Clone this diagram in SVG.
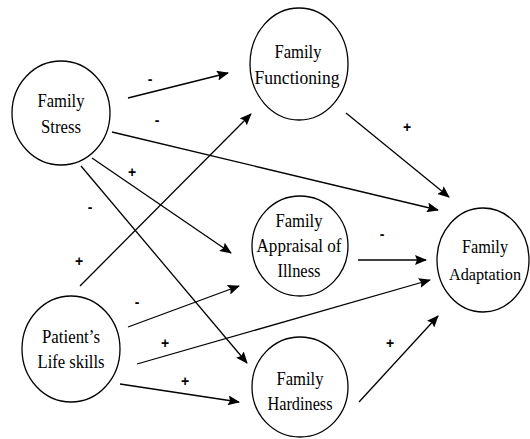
<svg xmlns="http://www.w3.org/2000/svg" width="530" height="439" viewBox="0 0 530 439">
<style>
.n ellipse{fill:#fff;stroke:#000;stroke-width:1.3}
.n text{font-family:"Liberation Serif","Times New Roman",serif;font-size:18.5px;fill:#000;text-anchor:middle}
#edges line{stroke:#000;stroke-width:1.3;marker-end:url(#ah)}
#labels text{font-family:"Liberation Sans",Arial,sans-serif;font-size:14px;font-weight:bold;fill:#000;text-anchor:middle}
</style>
<defs>
<marker id="ah" viewBox="0 0 12 10" refX="11" refY="5" markerWidth="12" markerHeight="10" markerUnits="userSpaceOnUse" orient="auto">
<path d="M0,0 L12,5 L0,10 L2,5 z" fill="#000"/>
</marker>
</defs>
<rect width="530" height="439" fill="#fff"/>
<g id="edges">
<line x1="128" y1="98" x2="228" y2="73"/>
<line x1="112" y1="132" x2="438" y2="210"/>
<line x1="92" y1="158" x2="231" y2="253"/>
<line x1="81" y1="166" x2="247" y2="363"/>
<line x1="80" y1="286" x2="251" y2="114"/>
<line x1="128" y1="327" x2="239" y2="286"/>
<line x1="137" y1="364" x2="430" y2="280"/>
<line x1="120" y1="384" x2="239" y2="402"/>
<line x1="346" y1="113" x2="449" y2="197"/>
<line x1="358" y1="260" x2="426" y2="260"/>
<line x1="359" y1="402" x2="438" y2="316"/>
</g>
<g id="labels">
<text x="150" y="84">-</text>
<text x="157" y="125">-</text>
<text x="132" y="177">+</text>
<text x="90" y="212">-</text>
<text x="79" y="266">+</text>
<text x="137" y="307">-</text>
<text x="165" y="348">+</text>
<text x="185" y="386">+</text>
<text x="407" y="132">+</text>
<text x="382" y="239">-</text>
<text x="390" y="348">+</text>
</g>
<g id="family-stress" class="n">
<ellipse cx="61" cy="113" rx="49" ry="52"/>
<text x="61" y="107" textLength="47" lengthAdjust="spacingAndGlyphs">Family</text>
<text x="61" y="133" textLength="40" lengthAdjust="spacingAndGlyphs">Stress</text>
</g>
<g id="family-functioning" class="n">
<ellipse cx="299" cy="64" rx="49" ry="56"/>
<text x="298" y="58" textLength="47" lengthAdjust="spacingAndGlyphs">Family</text>
<text x="297" y="84" textLength="85" lengthAdjust="spacingAndGlyphs">Functioning</text>
</g>
<g id="family-appraisal" class="n">
<ellipse cx="300" cy="246" rx="48" ry="50"/>
<text x="299" y="227" textLength="47" lengthAdjust="spacingAndGlyphs">Family</text>
<text x="299" y="252" textLength="85" lengthAdjust="spacingAndGlyphs">Appraisal of</text>
<text x="299" y="277" textLength="43" lengthAdjust="spacingAndGlyphs">Illness</text>
</g>
<g id="family-hardiness" class="n">
<ellipse cx="300" cy="387" rx="48" ry="50"/>
<text x="300" y="385" textLength="47" lengthAdjust="spacingAndGlyphs">Family</text>
<text x="300" y="410" textLength="65" lengthAdjust="spacingAndGlyphs">Hardiness</text>
</g>
<g id="family-adaptation" class="n">
<ellipse cx="483" cy="260" rx="46" ry="52"/>
<text x="485" y="253" textLength="46" lengthAdjust="spacingAndGlyphs">Family</text>
<text x="485" y="280" style="font-size:17px" textLength="72" lengthAdjust="spacingAndGlyphs">Adaptation</text>
</g>
<g id="patient-life-skills" class="n">
<ellipse cx="71" cy="349" rx="49" ry="53"/>
<text x="71" y="343" textLength="58" lengthAdjust="spacingAndGlyphs">Patient’s</text>
<text x="71" y="368" textLength="67" lengthAdjust="spacingAndGlyphs">Life skills</text>
</g>
</svg>
